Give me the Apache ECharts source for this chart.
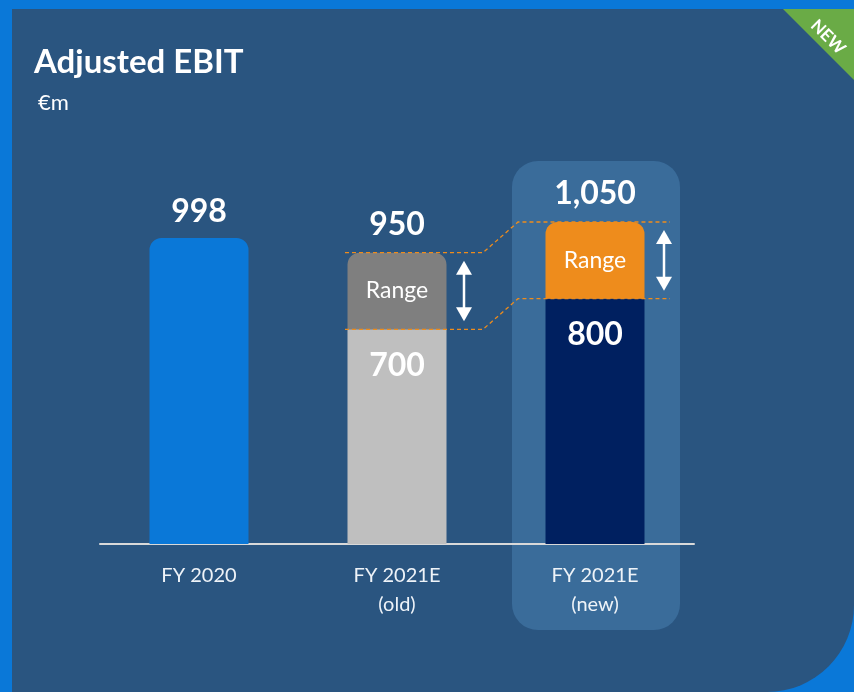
<!DOCTYPE html>
<html>
<head>
<meta charset="utf-8">
<script src="https://cdn.jsdelivr.net/npm/echarts@6/dist/echarts.min.js"></script>
<style>
  html, body { margin: 0; padding: 0; background: #0a78d8; }
  #main { width: 854px; height: 692px; }
</style>
</head>
<body>
<div id="main"></div>
<script>
// data
var categories = ['FY 2020', 'FY 2021E\n(old)', 'FY 2021E\n(new)'];
var baseValues = [998, 700, 800];
var rangeValues = [0, 250, 250];
var totalLabels = ['998', '950', '1,050'];

var FONT = 'Lato';
var baseColors = ['#0a78d8', '#bfbfbf', '#002060'];
var rangeColors = ['#0a78d8', '#7f7f7f', '#ee8c1c'];

var myChart = echarts.init(document.getElementById('main'));

var option = {
  animation: false,
  grid: { left: 100, right: 160, top: 176, bottom: 148 },
  xAxis: {
    type: 'category',
    data: categories,
    axisLine: { lineStyle: { color: '#d9d9d9', width: 2 } },
    axisTick: { show: false },
    axisLabel: { color: '#eef3f8', fontFamily: FONT, fontSize: 20, lineHeight: 29, margin: 17 }
  },
  yAxis: { type: 'value', min: 0, max: 1200, show: false },
  series: [
    {
      name: 'base',
      type: 'bar',
      stack: 'ebit',
      barWidth: '50%',
      z: 3,
      data: baseValues.map(function (v, i) {
        var item = { value: v, itemStyle: { color: baseColors[i] } };
        if (i === 0) {
          item.itemStyle.borderRadius = [12, 12, 0, 0];
          item.label = { position: 'top', distance: 10, formatter: totalLabels[0] };
        }
        return item;
      }),
      label: {
        show: true,
        position: 'insideTop',
        distance: 20,
        color: '#fff',
        fontFamily: FONT,
        fontWeight: 'bold',
        fontSize: 32
      }
    },
    {
      name: 'range',
      type: 'bar',
      stack: 'ebit',
      z: 3,
      data: rangeValues.map(function (v, i) {
        if (!v) return '-';
        return { value: v, itemStyle: { color: rangeColors[i], borderRadius: [12, 12, 0, 0] } };
      }),
      label: {
        show: true,
        position: 'inside',
        formatter: 'Range',
        color: '#fff',
        fontFamily: FONT,
        fontSize: 23
      }
    },
    {
      // totals above the range blocks
      name: 'total',
      type: 'bar',
      stack: 'ebit',
      z: 3,
      data: ['-', 0, 0],
      itemStyle: { color: 'transparent' },
      label: {
        show: true,
        position: 'top',
        distance: 12,
        color: '#fff',
        fontFamily: FONT,
        fontWeight: 'bold',
        fontSize: 32,
        formatter: function (p) { return totalLabels[p.dataIndex]; }
      }
    }
  ]
};

myChart.setOption(option);

// decorations placed from the chart's own scales
function px(cat, val) {
  return myChart.convertToPixel({ gridIndex: 0 }, [cat, val]);
}
var oldTop = px(1, baseValues[1] + rangeValues[1]);
var oldBot = px(1, baseValues[1]);
var newTop = px(2, baseValues[2] + rangeValues[2]);
var newBot = px(2, baseValues[2]);
var cOld = oldTop[0], cNew = newTop[0];

function dashed(y1, y2) {
  return {
    type: 'polyline',
    z: 4,
    shape: { points: [[cOld - 52, y1], [cOld + 86, y1], [cNew - 77, y2], [cNew + 75, y2]] },
    style: { stroke: '#ee8c1c', lineWidth: 1.3, lineDash: [4, 3], fill: null }
  };
}
function arrow(x, y1, y2) {
  return [
    { type: 'line', z: 4, shape: { x1: x, y1: y1 + 10, x2: x, y2: y2 - 10 }, style: { stroke: '#fff', lineWidth: 2.5 } },
    { type: 'polygon', z: 4, shape: { points: [[x, y1], [x - 8, y1 + 14], [x + 8, y1 + 14]] }, style: { fill: '#fff' } },
    { type: 'polygon', z: 4, shape: { points: [[x, y2], [x - 8, y2 - 14], [x + 8, y2 - 14]] }, style: { fill: '#fff' } }
  ];
}

var graphics = [
  { type: 'rect', z: -10, shape: { x: 12, y: 9, width: 842, height: 683, r: [0, 0, 87, 0] }, style: { fill: '#2a5580' } },
  { type: 'polygon', z: -9, shape: { points: [[783, 9], [854, 9], [854, 80]] }, style: { fill: '#6aab46' } },
  { type: 'text', z: -8, x: 828, y: 37, rotation: -Math.PI / 4,
    style: { text: 'NEW', fill: '#fff', font: 'bold 17px ' + FONT, align: 'center', verticalAlign: 'middle' } },
  { type: 'rect', z: -5, shape: { x: cNew - 83, y: 161, width: 168, height: 469, r: 26 }, style: { fill: '#3a6c9a' } },
  { type: 'text', left: 34, top: 46, style: { text: 'Adjusted EBIT', fill: '#fff', font: 'bold 33px ' + FONT } },
  { type: 'text', left: 38, top: 92, style: { text: '€m', fill: '#fff', font: '22px ' + FONT } },
  dashed(oldTop[1], newTop[1]),
  dashed(oldBot[1], newBot[1])
].concat(arrow(cOld + 67, oldTop[1] + 8, oldBot[1] - 8))
 .concat(arrow(cNew + 69, newTop[1] + 8, newBot[1] - 8));

myChart.setOption({ graphic: graphics });
</script>
</body>
</html>
